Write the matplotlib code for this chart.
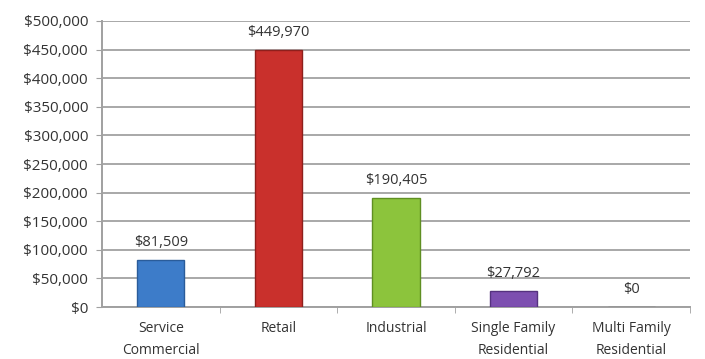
import matplotlib
matplotlib.use("Agg")
import matplotlib.pyplot as plt
from matplotlib.ticker import FuncFormatter, FixedLocator

categories = ["Service\nCommercial", "Retail", "Industrial", "Single Family\nResidential", "Multi Family\nResidential"]
values = [81509, 449970, 190405, 27792, 0]
colors = ["#3d7cc9", "#c9302c", "#8cc43c", "#7d4fb0", "#999999"]
edges = ["#2a5c9a", "#8e1f1c", "#5f8f22", "#55327f", "#777777"]

plt.rcParams["font.family"] = ["Open Sans", "DejaVu Sans"]

fig = plt.figure(figsize=(7.05, 3.59), dpi=100)
ax = fig.add_axes([102/705, 1 - 307/359, 588/705, (307 - 21)/359])

x = range(len(categories))
ax.bar(x, values, width=0.4, color=colors, edgecolor=edges, linewidth=1.0, zorder=3)

for xi, v in zip(x, values):
    ax.annotate(f"${v:,.0f}", (xi, v), xytext=(0, 10), textcoords="offset pixels",
                ha="center", va="bottom", fontsize=10.5, color="#333333")

ax.set_xlim(-0.5, len(categories) - 0.5)
ax.set_ylim(0, 500000)
ax.set_yticks(range(0, 500001, 50000))
ax.yaxis.set_major_formatter(FuncFormatter(lambda v, p: f"${v:,.0f}"))
ax.yaxis.grid(True, color="#a8a8a8", linewidth=1.4, zorder=0)
ax.set_axisbelow(True)

ax.set_xticks(list(x))
ax.set_xticklabels(categories, fontsize=10, color="#333333", linespacing=1.65)
ax.tick_params(axis="x", length=0, pad=10)
ax.xaxis.set_minor_locator(FixedLocator([i + 0.5 for i in range(len(categories))]))
ax.tick_params(axis="x", which="minor", length=4, color="#a0a0a0")
ax.tick_params(axis="y", length=4, color="#a0a0a0", labelsize=11, labelcolor="#333333", pad=6)

for side in ["top", "right"]:
    ax.spines[side].set_visible(False)
ax.spines["left"].set_color("#a0a0a0")
ax.spines["bottom"].set_color("#a0a0a0")
ax.spines["left"].set_linewidth(1.4)
ax.spines["bottom"].set_linewidth(1.4)

fig.savefig("out.png", dpi=100)
